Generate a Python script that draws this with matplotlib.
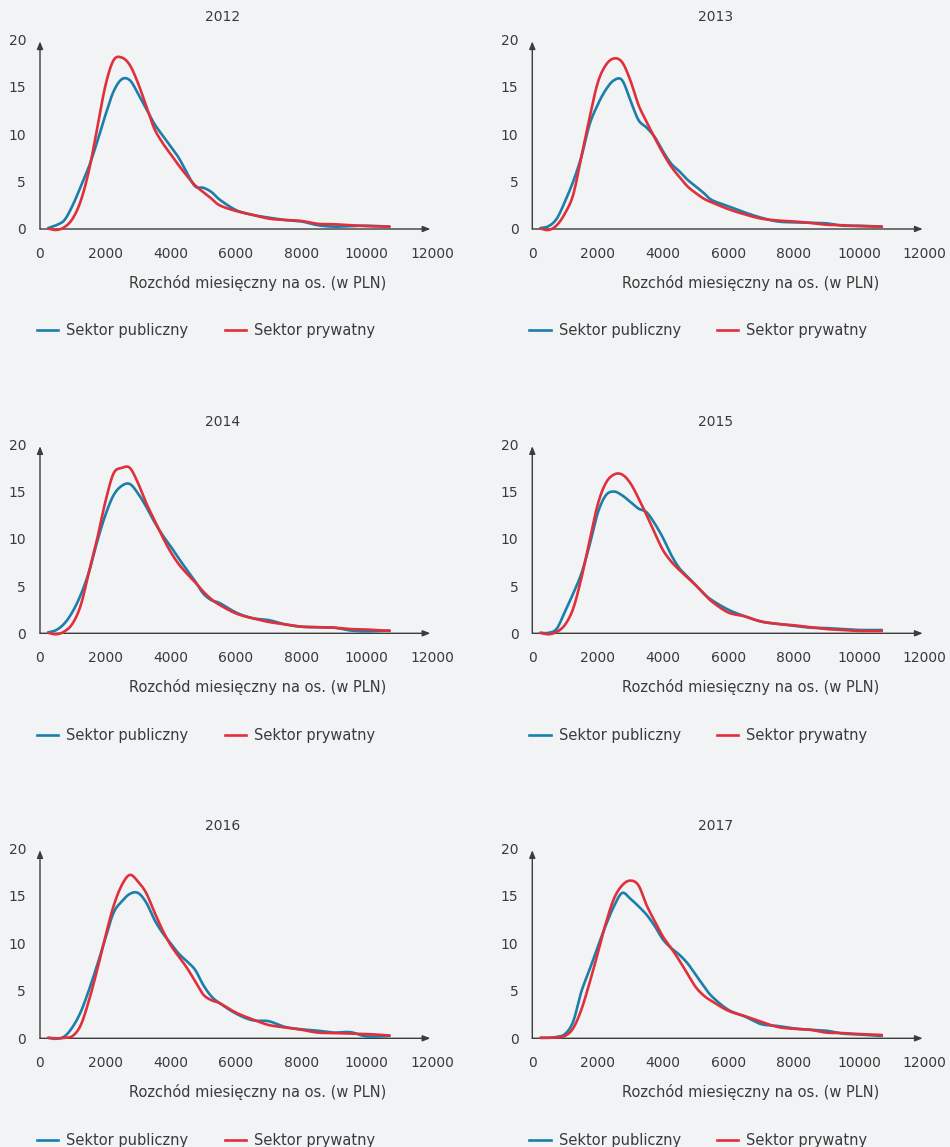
import numpy as np
import matplotlib
matplotlib.use("Agg")
import matplotlib.pyplot as plt
from matplotlib.lines import Line2D

# ---------------- data ----------------
years = ["2012", "2013", "2014", "2015", "2016", "2017"]
expense = [250, 500, 750, 1000, 1250, 1500, 1750, 2000, 2250, 2500, 2750, 3000,
           3250, 3500, 3750, 4000, 4250, 4500, 4750, 5000, 5250, 5500, 6000,
           6500, 7000, 7500, 8000, 8500, 9000, 9500, 10000, 10700]

public_2012 = [0.1, 0.4, 0.95, 2.5, 4.5, 6.6, 9.2, 12.0, 14.5, 15.8, 15.7, 14.3,
               12.7, 11.1, 9.9, 8.7, 7.5, 5.9, 4.5, 4.35, 3.9, 3.1, 2.0,
               1.5, 1.2, 0.95, 0.8, 0.4, 0.25, 0.3, 0.35, 0.25]
private_2012 = [0.05, -0.1, 0.2, 1.1, 3.0, 6.2, 10.6, 15.1, 17.8, 18.1, 17.3, 15.4,
                13.0, 10.6, 9.1, 7.9, 6.7, 5.6, 4.6, 3.9, 3.2, 2.5, 1.9,
                1.5, 1.1, 0.95, 0.85, 0.55, 0.5, 0.4, 0.3, 0.25]

public_2013 = [0.1, 0.3, 1.1, 2.9, 5.0, 7.6, 11.0, 13.1, 14.7, 15.7, 15.7, 13.6,
               11.5, 10.7, 9.7, 8.2, 6.9, 6.1, 5.2, 4.5, 3.8, 3.05, 2.4,
               1.75, 1.2, 0.8, 0.7, 0.65, 0.6, 0.35, 0.35, 0.25]
private_2013 = [0.05, -0.1, 0.4, 1.65, 3.6, 7.6, 11.7, 15.4, 17.3, 18.0, 17.6, 15.7,
                13.1, 11.3, 9.6, 8.0, 6.6, 5.5, 4.5, 3.8, 3.2, 2.8, 2.1,
                1.55, 1.1, 0.9, 0.8, 0.65, 0.45, 0.4, 0.3, 0.25]

public_2014 = [0.1, 0.35, 1.05, 2.3, 4.1, 6.5, 9.7, 12.5, 14.6, 15.6, 15.8, 14.8,
               13.4, 11.8, 10.4, 9.2, 7.9, 6.7, 5.5, 4.2, 3.5, 3.2, 2.2,
               1.6, 1.4, 0.95, 0.7, 0.65, 0.6, 0.3, 0.2, 0.3]
private_2014 = [0.05, -0.1, 0.2, 1.05, 3.0, 6.5, 10.0, 13.9, 16.9, 17.5, 17.5, 15.9,
                13.8, 12.0, 10.2, 8.6, 7.3, 6.3, 5.4, 4.4, 3.6, 3.0, 2.1,
                1.6, 1.2, 0.95, 0.7, 0.65, 0.6, 0.45, 0.4, 0.25]

public_2015 = [0.05, 0.05, 0.5, 2.3, 4.2, 6.3, 9.3, 12.7, 14.6, 15.0, 14.6, 13.9,
               13.2, 12.8, 11.6, 10.1, 8.3, 6.9, 6.0, 5.1, 4.2, 3.5, 2.5,
               1.8, 1.25, 1.0, 0.8, 0.6, 0.55, 0.45, 0.35, 0.35]
private_2015 = [0.05, -0.1, 0.15, 0.9, 2.6, 5.8, 9.7, 13.6, 15.9, 16.8, 16.8, 15.9,
                14.3, 12.5, 10.6, 8.8, 7.6, 6.7, 5.9, 5.1, 4.2, 3.35, 2.2,
                1.8, 1.25, 1.0, 0.85, 0.65, 0.45, 0.35, 0.25, 0.25]

public_2016 = [0.05, -0.05, 0.2, 1.2, 2.8, 5.1, 7.7, 10.5, 13.2, 14.4, 15.2, 15.3,
               14.3, 12.5, 11.1, 10.0, 8.9, 8.1, 7.2, 5.6, 4.4, 3.7, 2.6,
               1.9, 1.8, 1.2, 0.95, 0.8, 0.6, 0.65, 0.2, 0.25]
private_2016 = [0.05, 0.0, 0.05, 0.25, 1.4, 4.0, 7.2, 10.7, 13.9, 16.1, 17.2, 16.5,
                15.3, 13.3, 11.4, 9.8, 8.6, 7.4, 6.0, 4.6, 4.0, 3.7, 2.7,
                2.0, 1.4, 1.15, 0.9, 0.6, 0.55, 0.5, 0.45, 0.3]

public_2017 = [0.05, 0.05, 0.15, 0.45, 1.75, 4.9, 7.2, 9.6, 11.9, 13.9, 15.3, 14.7,
               13.9, 13.0, 11.8, 10.4, 9.5, 8.8, 7.9, 6.7, 5.5, 4.4, 3.0,
               2.3, 1.5, 1.3, 1.05, 0.9, 0.8, 0.5, 0.4, 0.25]
private_2017 = [0.05, 0.05, 0.1, 0.25, 1.05, 3.0, 5.8, 8.9, 12.1, 14.7, 16.1, 16.6,
                16.1, 14.0, 12.3, 10.7, 9.5, 8.2, 6.8, 5.4, 4.5, 3.9, 2.9,
                2.35, 1.75, 1.2, 1.0, 0.9, 0.6, 0.55, 0.45, 0.35]

public_series = [public_2012, public_2013, public_2014, public_2015, public_2016, public_2017]
private_series = [private_2012, private_2013, private_2014, private_2015, private_2016, private_2017]

x_ticks = [0, 2000, 4000, 6000, 8000, 10000, 12000]
y_ticks = [0, 5, 10, 15, 20]
series_names = ["Sektor publiczny", "Sektor prywatny"]
x_label = "Rozchód miesięczny na os. (w PLN)"

# ---------------- style ----------------
BG = "#f2f3f5"
BLUE = "#1b7fa9"
RED = "#e0303b"
TXT = "#3a3a3a"

plt.rcParams["font.family"] = ["DejaVu Sans"]

W, H = 950, 1147
fig = plt.figure(figsize=(W / 100, H / 100), dpi=100, facecolor=BG)

XMAX, YMAX = 12000, 20


def smooth(xs, ys, sx, sy, n=20):
    """Excel-style smoothed line (cubic Bezier, tension 1/6) in display-scaled space."""
    P = np.column_stack([np.asarray(xs, float) * sx, np.asarray(ys, float) * sy])
    out = []
    m = len(P)
    for i in range(m - 1):
        p0 = P[i - 1] if i > 0 else P[i]
        p1 = P[i]
        p2 = P[i + 1]
        p3 = P[i + 2] if i + 2 < m else P[i + 1]
        c1 = p1 + (p2 - p0) / 6.0
        c2 = p2 - (p3 - p1) / 6.0
        t = np.linspace(0, 1, n, endpoint=(i == m - 2))[:, None]
        seg = ((1 - t) ** 3) * p1 + 3 * ((1 - t) ** 2) * t * c1 + 3 * (1 - t) * t * t * c2 + (t ** 3) * p2
        out.append(seg)
    Q = np.vstack(out)
    return Q[:, 0] / sx, Q[:, 1] / sy


# axes geometry in pixels: (left x of y-axis, pixel y of value 0, pixel y of value 20)
col_left = [40.0, 532.3]
rows = [(229.0, 39.5), (633.3, 444.3), (1038.3, 848.3)]
x_span_px = 392.0

for k, year in enumerate(years):
    r, c = divmod(k, 2)
    x0 = col_left[c]
    y0, y20 = rows[r]
    ax = fig.add_axes([x0 / W, 1 - y0 / H, x_span_px / W, (y0 - y20) / H])
    ax.set_facecolor("none")
    ax.set_xlim(0, XMAX)
    ax.set_ylim(0, YMAX)
    for s in ax.spines.values():
        s.set_visible(False)

    # axes with arrows
    arrow = dict(arrowstyle="-|>,head_length=0.45,head_width=0.18",
                 color="#3c3c3c", lw=1.0, shrinkA=0, shrinkB=0)
    ax.annotate("", xy=(11950, 0), xytext=(0, 0), xycoords="data",
                arrowprops=arrow, annotation_clip=False)
    ax.annotate("", xy=(0, 19.8), xytext=(0, 0), xycoords="data",
                arrowprops=arrow, annotation_clip=False)

    sx = x_span_px / XMAX
    sy = (y0 - y20) / YMAX
    xs, ys = smooth(expense, public_series[k], sx, sy)
    ax.plot(xs, ys, color=BLUE, lw=1.9, clip_on=False, solid_capstyle="round", zorder=3)
    xs, ys = smooth(expense, private_series[k], sx, sy)
    ax.plot(xs, ys, color=RED, lw=1.9, clip_on=False, solid_capstyle="round", zorder=4)

    ax.set_xticks(x_ticks)
    ax.set_xticklabels([str(v) for v in x_ticks])
    ax.set_yticks(y_ticks)
    ax.set_yticklabels([str(v) for v in y_ticks])
    ax.tick_params(axis="both", length=0, labelsize=10, colors=TXT)
    ax.tick_params(axis="x", pad=13)
    ax.tick_params(axis="y", pad=10)

    # title
    fig.text((x0 + 183) / W, 1 - (y20 - 22.5) / H, year, ha="center", va="center",
             fontsize=10, color=TXT)
    # x label
    fig.text((x0 + 218) / W, 1 - (y0 + 54) / H, x_label, ha="center", va="center",
             fontsize=10.5, color=TXT)

    handles = [Line2D([0], [0], color=BLUE, lw=1.9), Line2D([0], [0], color=RED, lw=1.9)]
    ax.legend(handles, series_names, loc="center left",
              bbox_to_anchor=((x0 - 16) / W, 1 - (y0 + 102) / H),
              bbox_transform=fig.transFigure, ncol=2, frameon=False,
              fontsize=10.5, handlelength=1.45, handletextpad=0.55,
              columnspacing=2.5, labelcolor=TXT)

fig.savefig("out.png", dpi=100, facecolor=BG)
